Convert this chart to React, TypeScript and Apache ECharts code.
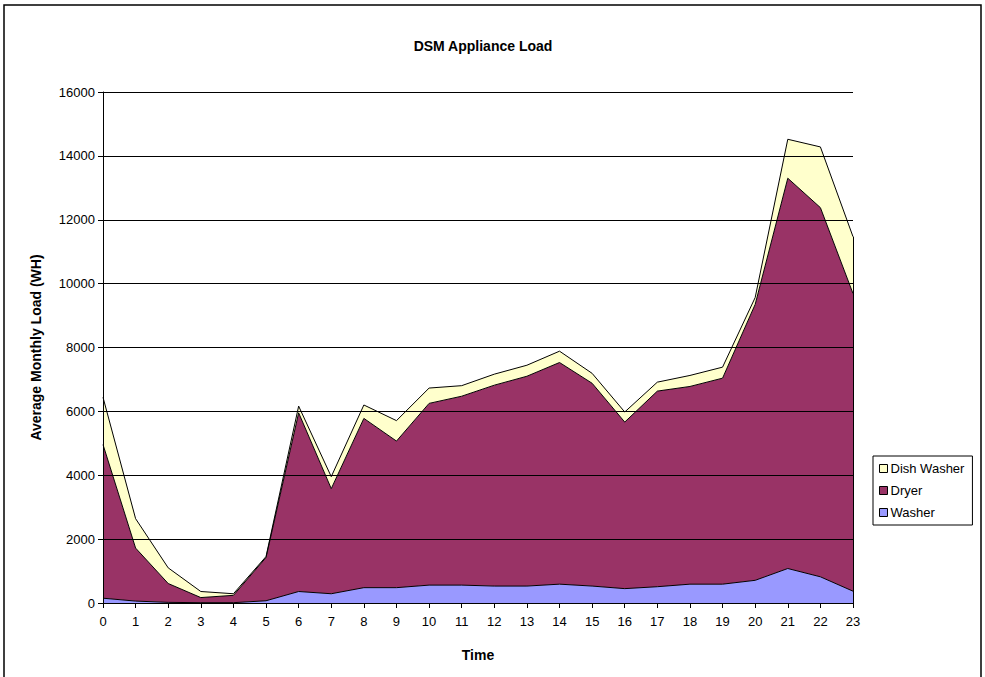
import React, { useEffect, useRef } from "react";
import * as echarts from "echarts";

const hours = ["0","1","2","3","4","5","6","7","8","9","10","11","12","13","14","15","16","17","18","19","20","21","22","23"];
const washer = [150, 60, 20, 10, 10, 70, 360, 290, 480, 480, 560, 560, 530, 530, 590, 530, 450, 510, 590, 590, 710, 1080, 820, 370];
const dryer = [4810, 1660, 590, 160, 230, 1355, 5595, 3290, 5300, 4590, 5690, 5915, 6290, 6570, 6940, 6350, 5215, 6125, 6190, 6450, 8640, 12220, 11560, 9320];
const dishWasher = [1480, 920, 490, 190, 50, 30, 210, 375, 420, 640, 480, 330, 345, 345, 355, 310, 315, 280, 345, 345, 215, 1220, 1900, 1780];
const yTicks = { min: 0, max: 16000, interval: 2000 };

const FONT = "'Liberation Sans', Arial, sans-serif";

export default function App() {
  const ref = useRef<HTMLDivElement>(null);
  useEffect(() => {
    if (!ref.current) return;
    const chart = echarts.init(ref.current, null, { renderer: "svg" });
    const last = hours.length - 1;
    const lastTotal = washer[last] + dryer[last] + dishWasher[last];
    const mkSeries = (name: string, data: number[], color: string, extra: any = {}) => ({
      name,
      type: "line",
      stack: "total",
      data,
      symbol: "none",
      itemStyle: { color },
      lineStyle: { color: "#000", width: 1 },
      areaStyle: { color, opacity: 1 },
      z: 3,
      ...extra,
    });
    chart.setOption({
      animation: false,
      backgroundColor: "#fff",
      textStyle: { fontFamily: FONT },
      title: {
        text: "DSM Appliance Load",
        left: 478,
        textAlign: "center",
        top: 34,
        textStyle: { fontFamily: FONT, fontSize: 14, fontWeight: "bold", color: "#000" },
      },
      graphic: [
        {
          type: "rect",
          shape: { x: 4, y: 5, width: 977, height: 700 },
          style: { fill: "none", stroke: "#000", lineWidth: 1.5 },
          silent: true,
        },
      ],
      legend: {
        orient: "vertical",
        left: 873,
        top: 456,
        data: ["Dish Washer", "Dryer", "Washer"],
        icon: "rect",
        itemWidth: 8,
        itemHeight: 8,
        itemGap: 9,
        padding: [6, 8, 6, 6],
        borderColor: "#000",
        borderWidth: 1,
        itemStyle: { borderColor: "#000", borderWidth: 1 },
        textStyle: { fontFamily: FONT, fontSize: 13, color: "#000", padding: [0, 0, 0, -2] },
      },
      grid: { left: 103, right: 132, top: 92, bottom: 74, containLabel: false },
      xAxis: {
        type: "category",
        data: hours,
        boundaryGap: false,
        name: "Time",
        nameLocation: "middle",
        nameGap: 45,
        nameTextStyle: { fontFamily: FONT, fontSize: 14, fontWeight: "bold", color: "#000" },
        axisLine: { lineStyle: { color: "#000", width: 1 } },
        axisTick: { show: true, interval: 0, length: 5, lineStyle: { color: "#000" } },
        axisLabel: { interval: 0, fontFamily: FONT, fontSize: 13, color: "#000", margin: 12 },
        splitLine: { show: false },
        z: 10,
      },
      yAxis: {
        type: "value",
        min: yTicks.min,
        max: yTicks.max,
        interval: yTicks.interval,
        name: "Average Monthly Load (WH)",
        nameLocation: "middle",
        nameGap: 60,
        nameTextStyle: { fontFamily: FONT, fontSize: 14, fontWeight: "bold", color: "#000" },
        axisLine: { show: true, lineStyle: { color: "#000", width: 1 } },
        axisTick: { show: true, length: 5, lineStyle: { color: "#000" } },
        axisLabel: { fontFamily: FONT, fontSize: 13, color: "#000", margin: 8, formatter: (v: number) => String(v) },
        splitLine: { show: true, lineStyle: { color: "#000", width: 1 } },
        z: 10,
      },
      series: [
        mkSeries("Washer", washer, "#9999FF"),
        mkSeries("Dryer", dryer, "#993366"),
        mkSeries("Dish Washer", dishWasher, "#FFFFCC", {
          markLine: {
            silent: true,
            symbol: "none",
            label: { show: false },
            lineStyle: { color: "#000", width: 1, type: "solid" },
            data: [[{ coord: [hours[last], 0] }, { coord: [hours[last], lastTotal] }]],
          },
        }),
      ],
    });
    return () => chart.dispose();
  }, []);
  return (
    <div
      ref={ref}
      style={{ position: "fixed", left: 0, top: 0, width: 985, height: 677 }}
    />
  );
}
